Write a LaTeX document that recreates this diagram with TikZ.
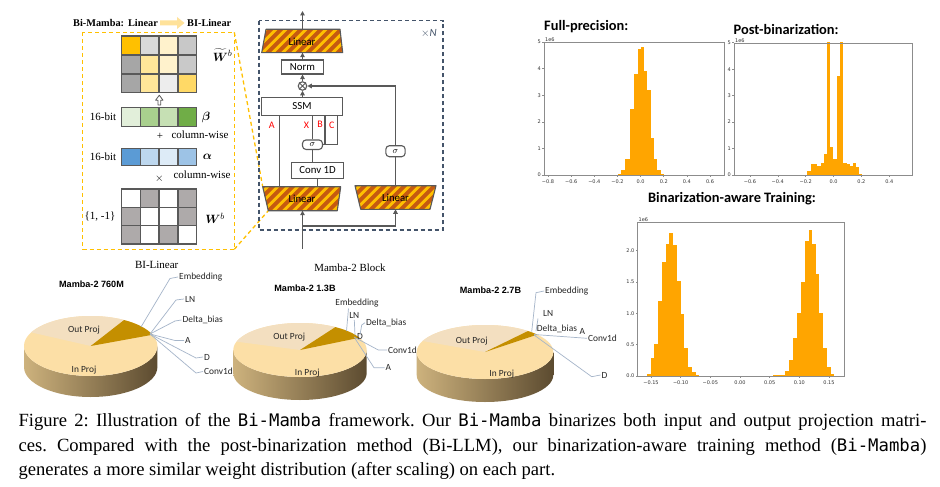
\documentclass[tikz,border=0pt]{standalone}
\usepackage{amsmath,bm}
\usepackage{fontspec}
\setmainfont{Liberation Serif}
\setmonofont{DejaVu Sans Mono}[Scale=0.93]
\newfontfamily\carl{Carlito}
\newfontfamily\lsans{Liberation Sans}
\newfontfamily\dvs{DejaVu Sans}
\usetikzlibrary{arrows.meta,calc}

\definecolor{blk}{HTML}{595959}
\definecolor{gridc}{HTML}{595959}
\definecolor{goldc}{HTML}{FFC000}
\definecolor{brownc}{HTML}{C55A11}
\definecolor{oboxc}{HTML}{FFC000}
\definecolor{bboxc}{HTML}{44546A}
\definecolor{arrowy}{HTML}{FFE29A}
\definecolor{histc}{HTML}{FFA500}
\definecolor{axc}{HTML}{8C8C8C}
\definecolor{tickc}{HTML}{333333}
\definecolor{leadc}{HTML}{A5B5C9}
\definecolor{ptext}{HTML}{262626}
\definecolor{pieL}{HTML}{CDB27D}
\definecolor{pieM}{HTML}{BCA16D}
\definecolor{pieR}{HTML}{5C4B30}
\definecolor{inproj}{HTML}{FCDFA6}
\definecolor{outproj}{HTML}{F3DFC0}
\definecolor{darkslice}{HTML}{C48F00}

\newcommand\matgrid[5]{%
  \foreach \cc [count=\k from 0] in {#5} {
    \pgfmathtruncatemacro\col{mod(\k,4)}
    \pgfmathtruncatemacro\row{int(\k/4)}
    \definecolor{tmpc}{HTML}{\cc}
    \path[fill=tmpc,draw=gridc,line width=1.5pt] ({#1+\col*#3},{#2+\row*#4}) rectangle ++(#3,#4);
  }}

\newcommand\stripetrap[6]{%
  \begin{scope}
    \clip (#1,#3) -- (#2,#3) -- (#5,#6) -- (#4,#6) -- cycle;
    \fill[goldc] ({min(#1,#4)-5},{#3-2}) rectangle ({max(#2,#5)+5},{#6+2});
    \foreach \s in {0,10,...,140} \draw[brownc,line width=3.9pt] ({min(#1,#4)-40+\s},{#6+6}) -- ++(36,-36);
  \end{scope}
  \draw[blk,line width=1.1pt,line join=round] (#1,#3) -- (#2,#3) -- (#5,#6) -- (#4,#6) -- cycle;}

% cx cy rx ry depth outStart darkStart darkEnd
\newcommand\drawpie[8]{%
  \shade[left color=pieL, middle color=pieM, right color=pieR]
    ({#1-#3},#2) -- ({#1-#3},{#2+#5}) arc[start angle=180,end angle=0,x radius=#3,y radius=#4]
    -- ({#1+#3},#2) arc[start angle=0,end angle=180,x radius=#3,y radius=#4] -- cycle;
  \fill[inproj] (#1,#2) ellipse [x radius=#3, y radius=#4];
  \fill[outproj] (#1,#2) -- ($(#1,#2)+(#6:#3 and #4)$) arc[start angle=#6,end angle=#7,x radius=#3,y radius=#4] -- cycle;
  \fill[darkslice] (#1,#2) -- ($(#1,#2)+(#7:#3 and #4)$) arc[start angle=#7,end angle=#8,x radius=#3,y radius=#4] -- cycle;}

\begin{document}
\begin{tikzpicture}[x=1pt,y=-1pt,
  gl/.style={draw=blk,line width=1.1pt},
  arr/.style={gl,-{Triangle[length=4.5pt,width=4.5pt]}},
  box/.style={draw=blk,line width=1.1pt,fill=white,inner sep=0},
  mlab/.style={font=\carl\fontsize{10.8}{12}\selectfont,inner sep=0},
  redlab/.style={font=\carl\fontsize{10}{11}\selectfont,text=red,inner sep=0},
  ser/.style={font=\fontsize{11}{13}\selectfont,inner sep=0},
  axb/.style={draw=axc,line width=0.8pt},
  tklab/.style={font=\dvs\fontsize{5}{6}\selectfont,text=tickc,inner sep=0},
  htitle/.style={font=\carl\bfseries\fontsize{14.4}{16}\selectfont,inner sep=0},
  ptitle/.style={font=\lsans\bfseries\fontsize{9.1}{11}\selectfont,inner sep=0},
  plab/.style={font=\carl\fontsize{9.4}{11}\selectfont,inner sep=1pt,text=ptext},
  lead/.style={draw=leadc,line width=0.7pt},
  obox/.style={draw=oboxc,dash pattern=on 4pt off 3pt,line width=1.3pt},
  bbox/.style={draw=bboxc,dash pattern=on 4pt off 3pt,line width=1.2pt},
  capt/.style={font=\fontsize{18.6}{24.5}\selectfont\frenchspacing,inner sep=0,anchor=base west},
]
\useasboundingbox (0,0) rectangle (940,487);
\fill[white] (0,0) rectangle (940,487);

%================ Left panel =================
\node[anchor=west,inner sep=0,font=\bfseries\fontsize{10.3}{12}\selectfont] (ttl1) at (73,23) {Bi-Mamba:\hspace{4pt}Linear};
\node[anchor=west,inner sep=0,font=\bfseries\fontsize{10.3}{12}\selectfont] (ttl2) at (187,23) {BI-Linear};
\fill[arrowy] (160,20.5) -- (177,20.5) -- (177,17) -- (184.5,23) -- (177,29) -- (177,25.5) -- (160,25.5) -- cycle;

\coordinate (ob1) at (234.3,32.3);
\coordinate (ob2) at (234.3,249.3);
\draw[obox] (82.7,32.3) rectangle (ob2);
\draw[obox] (ob1) -- (262.7,186.7);
\draw[obox] (ob2) -- (268.3,210.7);

\matgrid{121.7}{36}{18.75}{18.9}{FFC000,D9D9D9,FFF2CC,C8C8C8,A6A6A6,FFE699,FFF2CC,C9C9C9,A6A6A6,FFE699,EDEDED,FFD966}
\matgrid{121.7}{107.3}{18.75}{19.4}{E2EFDA,A9D08E,C6E0B4,70AD47}
\matgrid{121.7}{148.3}{18.75}{17.4}{5B9BD5,BDD7EE,DDEBF7,9DC3E6}
\matgrid{121.7}{189}{18.75}{18.33}{FFFFFF,AEAAAA,FFFFFF,AEAAAA,AEAAAA,FFFFFF,FFFFFF,AEAAAA,AEAAAA,FFFFFF,AEAAAA,FFFFFF}

\draw[blk,line width=0.8pt,fill=white,line join=round] (157.9,105) -- (157.9,100.2) -- (155.6,100.2) -- (159.3,95.2) -- (163,100.2) -- (160.7,100.2) -- (160.7,105) -- cycle;

\node[ser,font=\fontsize{13}{15}\selectfont] (wt) at (222.5,55) {$\bm{\widetilde{W}}^{b}$};
\node[ser] (b16) at (103,117) {16-bit};
\node[ser,font=\fontsize{13}{15}\selectfont] (beta) at (206,118) {$\bm{\beta}$};
\node[ser] (plus) at (160,136) {+};
\node[ser] (cw1) at (200,135) {column-wise};
\node[ser] (a16) at (103,157) {16-bit};
\node[ser,font=\fontsize{13}{15}\selectfont] (alpha) at (207.5,157.3) {$\bm{\alpha}$};
\node[ser] (tms) at (159.3,179) {$\times$};
\node[ser] (cw2) at (202,175) {column-wise};
\node[ser] (pm) at (100,216.7) {\{1, -1\}};
\node[ser,font=\fontsize{13}{15}\selectfont] (wb) at (215,218.3) {$\bm{W}^{b}$};
\node[ser] (bil) at (156.7,265) {BI-Linear};

%================ Mamba block =================
\draw[bbox] (259,20.7) rectangle (443,230);
\node[font=\carl\fontsize{11}{12}\selectfont,text=bboxc,inner sep=0] (xN) at (429,33) {$\times$\textit{N}};

\stripetrap{266}{340}{29.3}{261.7}{342.7}{52.7}
\stripetrap{262.7}{340.7}{186.7}{268.3}{337.3}{210.7}
\stripetrap{355}{436}{185.7}{360.7}{430}{209.3}
\node[mlab] (linT) at (302,41.5) {Linear};
\node[mlab] (linL) at (302,199) {Linear};
\node[mlab] (linR) at (395.5,197.5) {Linear};

\coordinate (linTtop) at (302.5,29.3);
\coordinate (linTbot) at (302.5,52.7);
\coordinate (outp) at (302.5,11);
\coordinate (lLtopA) at (279.3,186.7);
\coordinate (lLtopC) at (317.7,186.7);
\coordinate (lLbot) at (302.5,210.7);
\coordinate (lRtop) at (395.5,185.7);
\coordinate (lRbot) at (395.5,209.3);
\coordinate (inp) at (302.5,248.5);
\coordinate (br) at (302.5,226);

\node[box,minimum width=42.6pt,minimum height=14pt,mlab] (norm) at (302.5,67) {Norm};
\node[draw=blk,line width=1.1pt,circle,minimum size=8.5pt,inner sep=0,fill=white] (mul) at (302.5,86) {};
\draw[blk,line width=0.9pt] (mul.north west) -- (mul.south east) (mul.north east) -- (mul.south west);
\node[box,minimum width=80.6pt,minimum height=17.7pt,mlab] (ssm) at (302,106.2) {SSM};
\node[box,rounded corners=3.5pt,minimum width=20pt,minimum height=9.5pt,font=\fontsize{9.5}{10}\selectfont] (sig1) at (312.5,144.7) {$\sigma$};
\node[box,minimum width=51.6pt,minimum height=15.6pt,mlab] (conv) at (317.5,170.5) {Conv 1D};
\node[box,rounded corners=3.5pt,minimum width=19.3pt,minimum height=11pt,font=\fontsize{9.5}{10}\selectfont] (sig2) at (395.5,151.2) {$\sigma$};

\coordinate (bB) at (325,144.7);
\coordinate (bC) at (337.3,144.7);

\draw[arr] (linTtop) -- (outp);
\draw[arr] (norm.north) -- (linTbot);
\draw[arr] (mul.north) -- (norm.south);
\draw[arr] (mul.south |- ssm.north) -- (mul.south);
\draw[gl] (lLtopA) -- (lLtopA |- ssm.south);
\draw[gl] (sig1.north) -- (sig1.north |- ssm.south);
\draw[gl] (sig1.south) -- (sig1.south |- conv.north);
\draw[gl] (lLtopC) -- (lLtopC |- conv.south);
\draw[gl] (bB |- ssm.south) -- (bB);
\draw[gl] (bC |- ssm.south) -- (bC) -- (sig1.east);
\draw[gl] (lRtop) -- (sig2.south);
\draw[arr] (sig2.north) -- (sig2.north |- mul) -- (mul.east);
\draw[arr] (inp) -- (lLbot);
\draw[arr] (br) -- (br -| lRbot) -- (lRbot);

\node[redlab] (lA) at (271.7,125) {A};
\node[redlab] (lX) at (306.5,125) {X};
\node[redlab] (lB) at (320,124) {B};
\node[redlab] (lC) at (331.7,125) {C};

\node[ser,font=\fontsize{10.9}{12}\selectfont] (mblk) at (350,268) {Mamba-2 Block};

%================ Histograms =================
% Full precision
\foreach \a/\b/\h in {293/303/0.05,303/315/0.2,315/330/0.6,330/343/2.5,343/354/3.8,354/362/4.75,362/373/4.8,373/382/3.9,382/392/3.2,392/402/1.4,402/412/0.6,412/422/0.2,422/432/0.05}
  \fill[histc] ({520+\a/3},175) rectangle ({520+\b/3},{175-\h*26.6});
\draw[axb] (544,42) rectangle (724,175);
\foreach \v/\t in {-0.8/−0.8,-0.6/−0.6,-0.4/−0.4,-0.2/−0.2,0/0.0,0.2/0.2,0.4/0.4,0.6/0.6}{
  \draw[axb,line width=0.5pt] ({640.6+\v*115.7},175) -- ++(0,2);
  \node[tklab] at ({640.6+\v*115.7},181.7) {\t};}
\foreach \k in {0,...,5}{
  \draw[axb,line width=0.5pt] (544,{175-\k*26.6}) -- ++(-2,0);
  \node[tklab,anchor=east] at (541,{175-\k*26.6}) {\k};}
\node[tklab,anchor=west] (e1) at (545,39.5) {1e6};
\node[htitle,anchor=west] (hfp) at (544,27) {Full-precision:};

% Post-binarization
\begin{scope}
\clip (734,43) rectangle (912,175);
\foreach \a/\b/\h in {862/872/0.15,872/890/0.4,890/902/0.35,902/912/0.45,912/920/0.8,920/930/5.3,930/940/1.05,940/950/0.6,950/960/3.75,960/968/5.3,968/980/0.45,980/990/0.4,990/1000/0.35,1000/1008/0.45,1008/1018/0.3,1018/1025/0.05}
  \fill[histc] ({520+\a/3},175) rectangle ({520+\b/3},{175-\h*26.45});
\end{scope}
\draw[axb] (734,43) rectangle (912,175);
\foreach \v/\t in {-0.6/−0.6,-0.4/−0.4,-0.2/−0.2,0/0.0,0.2/0.2,0.4/0.4}{
  \draw[axb,line width=0.5pt] ({833.5+\v*139.3},175) -- ++(0,2);
  \node[tklab] at ({833.5+\v*139.3},181.7) {\t};}
\foreach \k in {0,...,5}{
  \draw[axb,line width=0.5pt] (734,{175-\k*26.45}) -- ++(-2,0);
  \node[tklab,anchor=east] at (731,{175-\k*26.45}) {\k};}
\node[tklab,anchor=west] (e2) at (735,40.5) {1e6};
\node[htitle,anchor=west] (hpb) at (733.5,29) {Post-binarization:};

% Binarization-aware
\foreach \a/\b/\h in {140/152/0.03,152/163/0.28,163/175/0.51,175/186/1.2,186/198/1.82,198/208/2.1,208/220/2.27,220/231/2.08,231/242/1.52,242/253/0.98,253/264/0.45,264/275/0.15,275/287/0.06,287/298/0.02,520/545/0.01,545/556/0.02,556/568/0.08,568/580/0.25,580/592/0.6,592/604/1.0,604/615/1.5,615/627/2.15,627/636/2.33,636/647/2.1,647/658/1.63,658/670/1.0,670/682/0.45,682/693/0.15,693/703/0.03}
  \fill[histc] ({600+\a/3},376) rectangle ({600+\b/3},{376-\h*62.8});
\draw[axb] (637.7,222.3) rectangle (844,376);
\foreach \v/\t in {-0.15/−0.15,-0.10/−0.10,-0.05/−0.05,0/0.00,0.05/0.05,0.10/0.10,0.15/0.15}{
  \draw[axb,line width=0.5pt] ({740+\v*593.3},376) -- ++(0,2);
  \node[tklab] at ({740+\v*593.3},382.7) {\t};}
\foreach \k/\t in {0/0.0,1/0.5,2/1.0,3/1.5,4/2.0}{
  \draw[axb,line width=0.5pt] (637.7,{376-\k*31.4}) -- ++(-2,0);
  \node[tklab,anchor=east] at (634.5,{376-\k*31.4}) {\t};}
\node[tklab,anchor=west] (e3) at (638.5,219.5) {1e6};
\node[htitle] (hba) at (732,199) {Binarization-aware Training:};

%================ Pies =================
\drawpie{90.7}{346}{66.7}{30}{21}{-153}{-60}{-22}
\drawpie{300}{350}{66.7}{27}{23}{-162}{-58}{-27}
\drawpie{485}{352}{68.3}{27}{23}{-156}{-51}{-40}

\node[ptitle] (pt1) at (91.5,284) {Mamba-2 760M};
\node[ptitle] (pt2) at (305,288.3) {Mamba-2 1.3B};
\node[ptitle] (pt3) at (490.5,290) {Mamba-2 2.7B};

\node[plab] (op1) at (84,330) {Out Proj};
\node[plab] (ip1) at (84,370) {In Proj};
\node[plab] (op2) at (289.3,336.7) {Out Proj};
\node[plab] (ip2) at (307.3,373.3) {In Proj};
\node[plab] (op3) at (471.7,341) {Out Proj};
\node[plab] (ip3) at (501.7,374.3) {In Proj};

% pie 1 labels
\coordinate (o1) at (150,334);
\node[plab,anchor=west] (e1a) at (178,277) {Embedding};
\node[plab,anchor=west] (ln1) at (184,299) {LN};
\node[plab,anchor=west] (db1) at (181.5,320) {Delta\_bias};
\node[plab,anchor=west] (a1) at (184,340.5) {A};
\node[plab,anchor=west] (d1) at (203,357) {D};
\node[plab,anchor=west] (c1) at (203,371.5) {Conv1d};
\draw[lead] (141,327) -- (170,278.5) -- (e1a.west);
\draw[lead] (o1) -- (176,300) -- (ln1.west);
\draw[lead] (o1) -- (175,321) -- (db1.west);
\draw[lead] (o1) -- (175,340.5) -- (a1.west);
\draw[lead] (o1) -- (196,358) -- (d1.west);
\draw[lead] (o1) -- (196,373) -- (c1.west);

% pie 2 labels
\node[plab] (e2a) at (357,303.5) {Embedding};
\node[plab] (ln2) at (354.3,315.7) {LN};
\node[plab,anchor=west] (db2) at (365,322.7) {Delta\_bias};
\node[plab] (d2) at (360,336) {D};
\node[plab,anchor=west] (c2) at (387,350) {Conv1d};
\node[plab,anchor=west] (a2) at (384.5,367.7) {A};
\draw[lead] (346.5,331) -- (348.5,308.5);
\draw[lead] (355,335) -- (ln2.south);
\draw[lead] (360,335) -- (361.7,325) -- (db2.west);
\draw[lead] (354,337) -- (378.3,350) -- (c2.west);
\draw[lead] (355,338.5) -- (374,367.7) -- (a2.west);

% pie 3 labels
\node[plab,anchor=west] (e3a) at (544,291) {Embedding};
\node[plab,anchor=west] (ln3) at (542,313.3) {LN};
\node[plab,anchor=west] (db3) at (535.7,329.3) {Delta\_bias};
\node[plab,anchor=west] (a3) at (578.5,331.5) {A};
\node[plab,anchor=west] (c3) at (587,338.3) {Conv1d};
\node[plab,anchor=west] (d3) at (600.5,375) {D};
\draw[lead] (531.7,331.7) -- (536,292.7) -- (e3a.west);
\draw[lead] (536,331) -- (538,318.5);
\draw[lead] (534,334.5) -- (c3.west);
\draw[lead] (534,335) -- (591.7,376.7) -- (d3.west);

%================ Caption =================
\node[capt] (cap1) at (18.3,426.5) {\makebox[908pt][s]{Figure 2: Illustration of the \texttt{Bi-Mamba} framework. Our \texttt{Bi-Mamba} binarizes both input and output projection matri-}};
\node[capt] (cap2) at (18.3,451) {\makebox[908pt][s]{ces. Compared with the post-binarization method (Bi-LLM), our binarization-aware training method (\texttt{Bi-Mamba})}};
\node[capt] (cap3) at (18.3,475.5) {generates a more similar weight distribution (after scaling) on each part.};
\end{tikzpicture}
\end{document}
